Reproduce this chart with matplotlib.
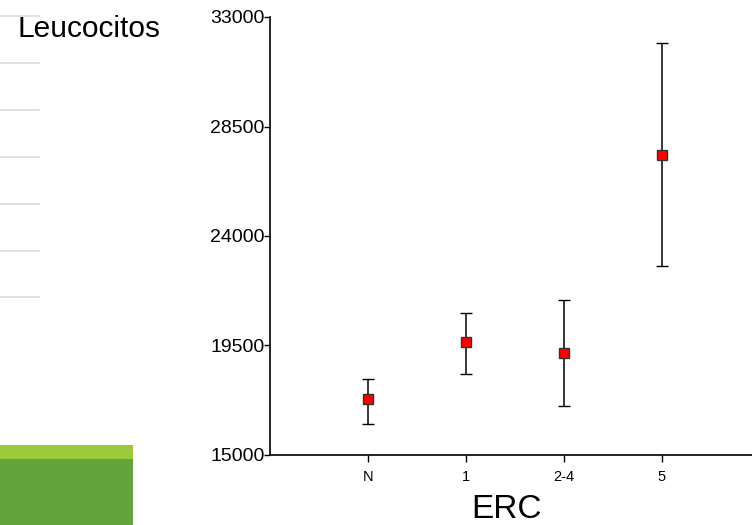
import matplotlib
matplotlib.use("Agg")
import matplotlib.pyplot as plt
from matplotlib.patches import Rectangle

plt.rcParams['font.family'] = ['Liberation Sans', 'DejaVu Sans']

# datos
grupos = ['N', '1', '2-4', '5']
medias = [17300, 19630, 19190, 27340]
sup = [18120, 20840, 21360, 31930]
inf = [16270, 18330, 17010, 22760]
yticks = [15000, 19500, 24000, 28500, 33000]

fig = plt.figure(figsize=(7.52, 5.25), dpi=100)

# decoracion de la diapositiva
for yy in [16, 63, 110, 157, 204, 251, 297]:
    fig.add_artist(plt.Line2D([0, 39 / 752], [1 - yy / 525] * 2, color='#dcdcdc', lw=1.2))
fig.add_artist(Rectangle((0, 0), 133 / 752, 66 / 525, color='#62a43a', lw=0))
fig.add_artist(Rectangle((0, 66 / 525), 133 / 752, 14 / 525, color='#9aca3c', lw=0))

ax = fig.add_axes([270 / 752, 70 / 525, 490 / 752, 438 / 525])
x = list(range(1, len(grupos) + 1))
err_inf = [m - i for m, i in zip(medias, inf)]
err_sup = [s - m for m, s in zip(medias, sup)]
ax.errorbar(x, medias, yerr=[err_inf, err_sup], fmt='s', color='black', ecolor='black',
            elinewidth=1.1, capsize=4.3, capthick=1.1, markersize=7.8,
            markerfacecolor='red', markeredgecolor='#333333', markeredgewidth=1.0)

ax.set_xlim(0, 5)
ax.set_ylim(15000, 33000)
ax.set_xticks(x)
ax.set_xticklabels(grupos, fontsize=10.5)
ax.set_yticks(yticks)
ax.set_yticklabels([str(v) for v in yticks], fontsize=14)
ax.tick_params(axis='y', length=4, width=1, pad=0)
ax.tick_params(axis='x', length=5, width=1, pad=6)
for s in ['top', 'right']:
    ax.spines[s].set_visible(False)
for s in ['left', 'bottom']:
    ax.spines[s].set_linewidth(1.2)

fig.text(17 / 752, 1 - 37 / 525, 'Leucocitos', fontsize=21.5, va='baseline', ha='left')
fig.text(507 / 752, 0.5 / 525, 'ERC', fontsize=24, va='bottom', ha='center')

fig.savefig('out.png', dpi=100)
